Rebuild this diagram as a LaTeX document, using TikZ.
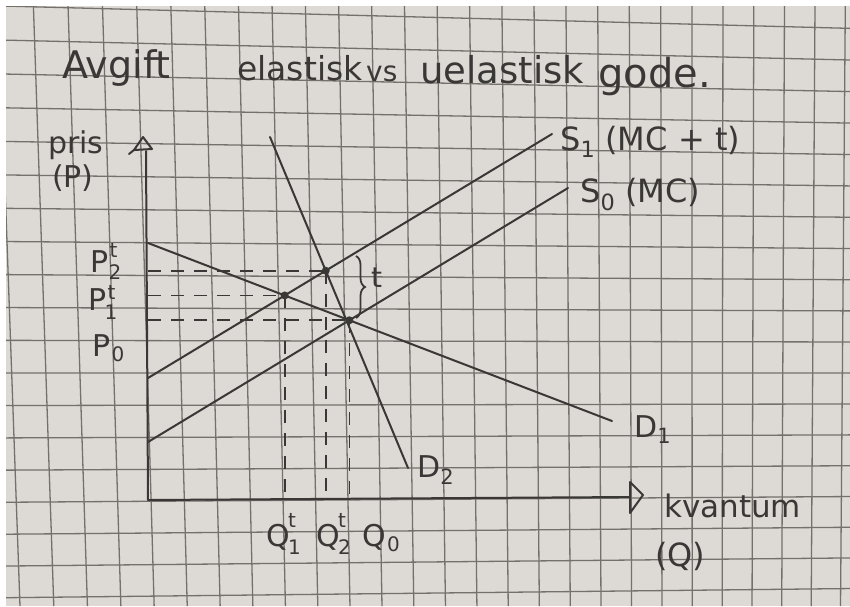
\documentclass[tikz,border=0pt]{standalone}
\usepackage{fontspec}
\setmainfont{DejaVu Sans}
\usetikzlibrary{decorations.pathreplacing,calc}
\definecolor{paper}{RGB}{221,217,213}
\definecolor{gridc}{RGB}{116,112,108}
\definecolor{ink}{RGB}{58,56,54}
\newcommand\fsz[1]{\fontsize{#1}{#1}\selectfont}
\begin{document}
\begin{tikzpicture}[x=1pt,y=-1pt,
  inkline/.style={draw=ink,line width=2pt,line cap=round,line join=round},
  dashline/.style={draw=ink,line width=1.7pt,dash pattern=on 13pt off 10pt},
  gridline/.style={draw=gridc,line width=1.3pt},
  dot/.style={circle,fill=ink,inner sep=0pt,minimum size=8pt},
  lab/.style={text=ink,inner sep=0pt,anchor=base west},
  idx/.style={text=ink,inner sep=0pt,anchor=base west,font=\fsz{20}}]
\useasboundingbox (0,0) rectangle (850,606);
\fill[white] (0,0) rectangle (850,606);
\fill[paper] (6,6) rectangle (850,606);
% grid paper (slight perspective)
\begin{scope}
\clip (6,6) rectangle (850,606);
\foreach \k in {-1,...,25}{
  \pgfmathsetmacro\xm{40+34.4*(\k)-0.09*(\k)*(\k)}
  \pgfmathsetmacro\tl{0.034-0.042*(\k)/25}
  \draw[gridline] ({\xm-200*\tl},0) -- ({\xm+406*\tl},606);
}
\foreach \j in {-1,...,18}{
  \pgfmathsetmacro\yl{40+34*(\j)-0.07*(\j)*(\j)}
  \pgfmathsetmacro\yr{60+31.6*(\j)-0.03*(\j)*(\j)}
  \draw[gridline] (0,\yl) -- (850,\yr);
}
\end{scope}
% title
\node[lab,font=\fsz{38}] (t1) at (62,78) {Avgift};
\node[lab,font=\fsz{33}] (t2) at (237,80) {elastisk};
\node[lab,font=\fsz{28}] (t3) at (366,81) {vs};
\node[lab,font=\fsz{37}] (t4) at (420,83) {uelastisk};
\node[lab,font=\fsz{40}] (t5) at (598,87) {gode.};
% axes
\coordinate (O) at (148,500);
\coordinate (Ytop) at (146,151);
\coordinate (Xend) at (630,497);
\draw[inkline] (Ytop) -- (O) -- (Xend);
\draw[inkline] (143,137) -- (152,149) -- (134,150) -- cycle;
\draw[inkline] (134,150) -- (129,154);
\draw[inkline] (630,482) -- (643,495) -- (630,513) -- cycle;
\node[lab,font=\fsz{30}] (pris) at (48,153) {pris};
\node[lab,font=\fsz{30}] (Plab) at (52,187) {(P)};
\node[lab,font=\fsz{31}] (kv) at (664,517) {kvantum};
\node[lab,font=\fsz{32}] (Qlab) at (655,566) {(Q)};
% curves
\coordinate (S1a) at (148,378); \coordinate (S1b) at (552,134);
\coordinate (S0a) at (148,442); \coordinate (S0b) at (568,188);
\coordinate (D1a) at (148,243); \coordinate (D1b) at (612,421);
\coordinate (D2a) at (270,137); \coordinate (D2b) at (408,468);
\coordinate (E1) at (intersection of D1a--D1b and S1a--S1b);
\coordinate (E2) at (intersection of D2a--D2b and S1a--S1b);
\coordinate (E0) at (intersection of D1a--D1b and S0a--S0b);
% dashed guides
\draw[dashline] (E2 -| O) -- (E2);
\draw[dashline] (E1 -| O) -- (E1);
\draw[dashline] (E0 -| O) -- (E0);
\draw[dashline] (E1) -- (E1 |- O);
\draw[dashline] (E2) -- (E2 |- O);
\draw[dashline] (E0) -- (E0 |- O);
\draw[inkline] (S1a) -- (S1b);
\draw[inkline] (S0a) -- (S0b);
\draw[inkline] (D1a) -- (D1b);
\draw[inkline] (D2a) -- (D2b);
\node[dot] (e1) at (E1) {};
\node[dot] (e2) at (E2) {};
\node[dot] (e0) at (E0) {};
% brace t
\coordinate (Bt) at (356,256);
\coordinate (Bb) at (356,318);
\draw[draw=ink,line width=1.8pt,decorate,decoration={brace,amplitude=9pt}] (Bt) -- (Bb);
\node[lab,font=\fsz{28}] (tlab) at (371,287) {t};
% curve labels
\node[lab,font=\fsz{32}] (S1lab) at (560,150) {S\textsubscript{1} (MC + t)};
\node[lab,font=\fsz{32}] (S0lab) at (580,202) {S\textsubscript{0} (MC)};
\node[lab,font=\fsz{30}] (D1lab) at (634,437) {D\textsubscript{1}};
\node[lab,font=\fsz{30}] (D2lab) at (417,477) {D\textsubscript{2}};
% price labels
\node[lab,font=\fsz{30}] (P2) at (90,272) {P};
\node[idx] (P2t) at ([shift={(1,-15)}]P2.base east) {t};
\node[idx] (P2s) at ([shift={(0,7)}]P2.base east) {2};
\node[lab,font=\fsz{30}] (P1) at (88,310) {P};
\node[idx] (P1t) at ([shift={(1,-11)}]P1.base east) {t};
\node[idx] (P1s) at ([shift={(-2,9)}]P1.base east) {1};
\node[lab,font=\fsz{30}] (P0) at (92,356) {P};
\node[idx] (P0s) at ([shift={(1,5)}]P0.base east) {0};
% quantity labels
\node[lab,font=\fsz{30}] (Q1) at (266,546) {Q};
\node[idx] (Q1t) at ([shift={(-2,-19)}]Q1.base east) {t};
\node[idx] (Q1s) at ([shift={(-2,8)}]Q1.base east) {1};
\node[lab,font=\fsz{30}] (Q2) at (316,546) {Q};
\node[idx] (Q2t) at ([shift={(-2,-19)}]Q2.base east) {t};
\node[idx] (Q2s) at ([shift={(-2,8)}]Q2.base east) {2};
\node[lab,font=\fsz{30}] (Q0) at (362,546) {Q};
\node[idx] (Q0s) at ([shift={(1,5)}]Q0.base east) {0};
\end{tikzpicture}
\end{document}
